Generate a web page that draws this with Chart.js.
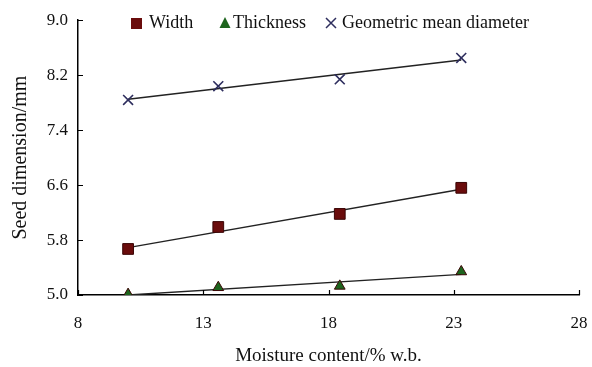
<!DOCTYPE html>
<html>
<head>
<meta charset="utf-8">
<script src="https://cdn.jsdelivr.net/npm/chart.js@4/dist/chart.umd.min.js"></script>
<style>
  html, body { margin: 0; padding: 0; background: #fff; }
</style>
</head>
<body>
<canvas id="seedChart" width="592" height="367"></canvas>
<script>
// moisture content (% w.b.) and measured seed dimensions (mm)
const moisture = [10, 13.6, 18.45, 23.3];
const widthMm = [5.67, 5.99, 6.18, 6.56];
const thicknessMm = [5.01, 5.11, 5.13, 5.34];
const gmdMm = [7.84, 8.04, 8.14, 8.45];

// fitted straight lines, from the first to the last moisture level
const fitX = [10, 23.3];
const widthFit = [5.69, 6.54];
const thicknessFit = [5.00, 5.30];
const gmdFit = [7.85, 8.42];

const xTicks = [8, 13, 18, 23, 28];
const yTicks = [5.0, 5.8, 6.6, 7.4, 8.2, 9.0];

const seriesNames = ['Width', 'Thickness', 'Geometric mean diameter'];

const FONT = '"Liberation Serif", "Times New Roman", serif';
const MAROON = '#6a0c0c';
const GREEN = '#1d641d';
const NAVY = '#2e2e5e';
const LINE = '#222222';

const pts = (xs, ys) => xs.map((x, i) => ({ x: x, y: ys[i] }));

function markerDataset(label, ys, style, color, radius) {
  return {
    label: label,
    data: pts(moisture, ys),
    showLine: false,
    pointStyle: style,
    pointRadius: radius,
    pointHoverRadius: radius,
    pointBackgroundColor: color,
    pointBorderColor: style === 'crossRot' ? NAVY : '#3a0505',
    pointBorderWidth: style === 'crossRot' ? 1.6 : 1
  };
}

function fitDataset(ys) {
  return {
    label: '',
    data: pts(fitX, ys),
    showLine: true,
    borderColor: LINE,
    borderWidth: 1.4,
    pointRadius: 0,
    pointHoverRadius: 0
  };
}

// small tick marks pointing into the plot
const innerTicks = {
  id: 'innerTicks',
  afterDraw(chart) {
    const { ctx, chartArea, scales } = chart;
    ctx.save();
    ctx.strokeStyle = '#000';
    ctx.lineWidth = 1.2;
    ctx.beginPath();
    xTicks.forEach(v => {
      const px = Math.round(scales.x.getPixelForValue(v)) + 0.5;
      ctx.moveTo(px, chartArea.bottom);
      ctx.lineTo(px, chartArea.bottom - 5);
    });
    yTicks.forEach(v => {
      const py = Math.round(scales.y.getPixelForValue(v)) + 0.5;
      ctx.moveTo(chartArea.left, py);
      ctx.lineTo(chartArea.left + 5, py);
    });
    ctx.stroke();
    ctx.restore();
  }
};

// legend row laid across the top of the plot
const topLegend = {
  id: 'topLegend',
  afterDraw(chart) {
    const ctx = chart.ctx;
    const y = 23;
    ctx.save();
    ctx.font = '18px ' + FONT;
    ctx.textBaseline = 'middle';
    ctx.fillStyle = '#111';

    // square
    ctx.fillStyle = MAROON;
    ctx.fillRect(131, y - 5, 11, 11);
    ctx.fillStyle = '#111';
    ctx.fillText(seriesNames[0], 149, y);

    // triangle
    ctx.fillStyle = GREEN;
    ctx.beginPath();
    ctx.moveTo(225, y - 6);
    ctx.lineTo(230.5, y + 5);
    ctx.lineTo(219.5, y + 5);
    ctx.closePath();
    ctx.fill();
    ctx.fillStyle = '#111';
    ctx.fillText(seriesNames[1], 233, y);

    // cross
    ctx.strokeStyle = NAVY;
    ctx.lineWidth = 1.5;
    ctx.beginPath();
    ctx.moveTo(326, y - 5);
    ctx.lineTo(336, y + 5);
    ctx.moveTo(336, y - 5);
    ctx.lineTo(326, y + 5);
    ctx.stroke();
    ctx.fillText(seriesNames[2], 342, y);
    ctx.restore();
  }
};

new Chart(document.getElementById('seedChart'), {
  type: 'scatter',
  data: {
    datasets: [
      markerDataset(seriesNames[0], widthMm, 'rect', MAROON, 7.6),
      markerDataset(seriesNames[1], thicknessMm, 'triangle', GREEN, 6.2),
      markerDataset(seriesNames[2], gmdMm, 'crossRot', NAVY, 7),
      fitDataset(widthFit),
      fitDataset(thicknessFit),
      fitDataset(gmdFit)
    ]
  },
  options: {
    responsive: false,
    animation: false,
    layout: { padding: { left: 0, right: 13, top: 15, bottom: 0 } },
    plugins: {
      legend: { display: false },
      tooltip: { enabled: false }
    },
    scales: {
      x: {
        type: 'linear',
        min: 8,
        max: 28,
        afterBuildTicks: s => { s.ticks = xTicks.map(v => ({ value: v })); },
        afterFit: s => { s.height = 72; s.paddingLeft = 0; s.paddingRight = 0; },
        grid: { display: false, drawTicks: false },
        border: { display: true, color: '#000', width: 1.5 },
        ticks: {
          color: '#111',
          padding: 18,
          maxRotation: 0,
          font: { family: FONT, size: 17 }
        },
        title: {
          display: true,
          text: 'Moisture content/% w.b.',
          color: '#111',
          padding: { top: 0, bottom: 0 },
          font: { family: FONT, size: 19 }
        }
      },
      y: {
        type: 'linear',
        min: 5.0,
        max: 9.0,
        afterBuildTicks: s => { s.ticks = yTicks.map(v => ({ value: v })); },
        afterFit: s => { s.width = 78; },
        grid: { display: false, drawTicks: false },
        border: { display: true, color: '#000', width: 1.5 },
        ticks: {
          color: '#111',
          padding: 10,
          font: { family: FONT, size: 17 },
          callback: v => Number(v).toFixed(1)
        },
        title: {
          display: true,
          text: 'Seed dimension/mm',
          color: '#111',
          padding: { top: 9, bottom: 0 },
          font: { family: FONT, size: 20 }
        }
      }
    }
  },
  plugins: [innerTicks, topLegend]
});
</script>
</body>
</html>
